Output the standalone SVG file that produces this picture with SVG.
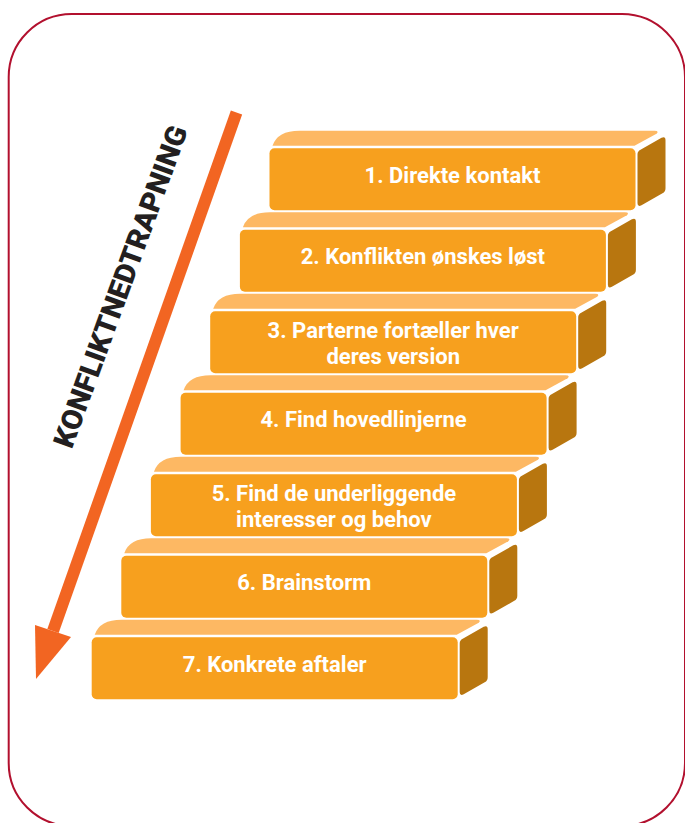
<svg xmlns="http://www.w3.org/2000/svg" xmlns:xlink="http://www.w3.org/1999/xlink" width="685" height="823" viewBox="0 0 685 823">
<style>
.top{fill:#FDB863}
.front{fill:#F7A01E}
.side{fill:#B8760F}
.lbl{font-family:Roboto,"Liberation Sans",sans-serif;font-weight:700;font-size:22px;fill:#FFFFFF;text-anchor:middle}
.title{font-family:Roboto,"Liberation Sans",sans-serif;font-weight:900;font-size:29px;fill:#231F20;text-anchor:middle}
</style>
<defs>
<g id="step">
<path class="top" d="M3,-2.5 Q8,-17.5 30,-17.5 L385,-17.5 Q390,-17.5 387,-14.5 L365,-2.5 Z"/>
<rect class="front" x="0" y="0" width="366" height="62" rx="5"/>
<path class="side" d="M368,6 Q368,3 371,1.5 L392,-10.5 Q396,-12.5 396,-8 L396,40 Q396,43.5 393,45 L372,57 Q368,59 368,55 Z"/>
</g>
</defs>
<rect x="8.7" y="14" width="676.3" height="812" rx="63" fill="none" stroke="#B2102E" stroke-width="2"/>
<g id="arrow">
<line x1="236.5" y1="112.5" x2="53" y2="631" stroke="#F26522" stroke-width="12"/>
<polygon points="35,625 71,637 36,679" fill="#F26522"/>
</g>
<text class="title" transform="translate(130,290) rotate(-70)" textLength="340" lengthAdjust="spacingAndGlyphs">KONFLIKTNEDTRAPNING</text>
<g id="step1" transform="translate(269.5,148.3)">
<use xlink:href="#step"/>
<text class="lbl" x="183" y="34.5">1. Direkte kontakt</text>
</g>
<g id="step2" transform="translate(239.9,229.8)">
<use xlink:href="#step"/>
<text class="lbl" x="183" y="34.5">2. Konflikten ønskes løst</text>
</g>
<g id="step3" transform="translate(210.2,311.3)">
<use xlink:href="#step"/>
<text class="lbl" x="183" y="27">3. Parterne fortæller hver</text>
<text class="lbl" x="183" y="52.5">deres version</text>
</g>
<g id="step4" transform="translate(180.6,392.8)">
<use xlink:href="#step"/>
<text class="lbl" x="183" y="34.5">4. Find hovedlinjerne</text>
</g>
<g id="step5" transform="translate(150.9,474.3)">
<use xlink:href="#step"/>
<text class="lbl" x="183" y="27">5. Find de underliggende</text>
<text class="lbl" x="183" y="52.5">interesser og behov</text>
</g>
<g id="step6" transform="translate(121.3,555.8)">
<use xlink:href="#step"/>
<text class="lbl" x="183" y="34.5">6. Brainstorm</text>
</g>
<g id="step7" transform="translate(91.7,637.3)">
<use xlink:href="#step"/>
<text class="lbl" x="183" y="34.5">7. Konkrete aftaler</text>
</g>
</svg>
